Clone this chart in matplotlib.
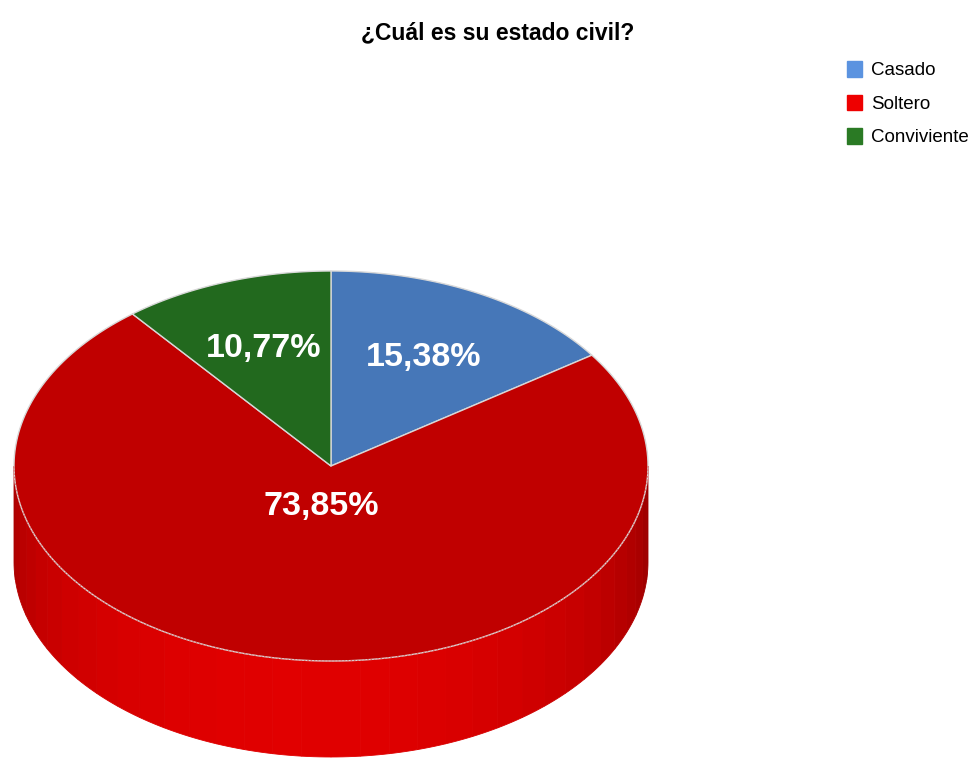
import numpy as np
import matplotlib
matplotlib.use("Agg")
import matplotlib.pyplot as plt
from matplotlib.patches import Polygon, Patch
from matplotlib.colors import to_rgb

# ---- data ----
categories = ["Casado", "Soltero", "Conviviente"]
values = [15.38, 73.85, 10.77]
top_colors = ["#4677b8", "#c00000", "#22691e"]
legend_colors = ["#5b93e0", "#ee0000", "#2a7a24"]
title = "¿Cuál es su estado civil?"

FONT = ["Liberation Sans Narrow", "Liberation Sans", "DejaVu Sans"]

W, H = 979, 761
fig = plt.figure(figsize=(W / 100, H / 100), dpi=100)
ax = fig.add_axes([0, 0, 1, 1])
ax.set_xlim(0, W)
ax.set_ylim(H, 0)
ax.axis("off")

cx, cy, rx, ry, depth = 331, 466, 317, 195, 96

def px(t):
    return cx + rx * np.sin(t)

def py(t):
    return cy - ry * np.cos(t)

fracs = np.array(values) / np.sum(values)
starts = np.concatenate([[0], np.cumsum(fracs)[:-1]]) * 2 * np.pi
ends = np.cumsum(fracs) * 2 * np.pi

# ---- side wall (front half only) ----
nstrip = 34
for s, e, col in zip(starts, ends, top_colors):
    a0, a1 = max(s, np.pi / 2), min(e, 3 * np.pi / 2)
    if a1 <= a0:
        continue
    base = np.array(to_rgb(col))
    side_base = np.clip(base * 1.17, 0, 1)
    edges = np.linspace(a0, a1, nstrip + 1)
    for t0, t1 in zip(edges[:-1], edges[1:]):
        tm = 0.5 * (t0 + t1)
        f = 0.70 + 0.30 * max(0.0, -np.cos(tm - 0.12)) ** 0.8
        c = np.clip(side_base * f, 0, 1)
        tt = np.linspace(t0, t1, 6)
        xs = px(tt)
        ys = py(tt)
        pts = np.column_stack([np.concatenate([xs, xs[::-1]]),
                               np.concatenate([ys, ys[::-1] + depth])])
        ax.add_patch(Polygon(pts, closed=True, facecolor=c, edgecolor=c,
                             lw=0.6, zorder=1))

# ---- top faces ----
for s, e, col in zip(starts, ends, top_colors):
    tt = np.linspace(s, e, 200)
    pts = np.column_stack([np.concatenate([[cx], px(tt)]),
                           np.concatenate([[cy], py(tt)])])
    ax.add_patch(Polygon(pts, closed=True, facecolor=col, edgecolor="#d8d8d8",
                         lw=1.0, zorder=3, joinstyle="round"))

# faint front rim line
tt = np.linspace(np.pi / 2, 3 * np.pi / 2, 200)
ax.plot(px(tt), py(tt), color="#e06060", lw=0.6, ls=(0, (2, 2)), zorder=4)

# ---- labels ----
label_r = [0.63, 0.21, 0.64]
for s, e, v, r in zip(starts, ends, values, label_r):
    tm = 0.5 * (s + e)
    lx = cx + r * rx * np.sin(tm)
    ly = cy - r * ry * np.cos(tm)
    txt = f"{v:.2f}".replace(".", ",") + "%"
    ax.text(lx, ly, txt, color="white", fontsize=24.5, fontweight="bold",
            family=FONT, ha="center", va="center", zorder=5)

# ---- title ----
ax.text(498, 33, title, fontsize=16.5, fontweight="bold", family=FONT,
        ha="center", va="center", color="black")

# ---- legend ----
handles = [Patch(facecolor=c, edgecolor=c) for c in legend_colors]
leg = ax.legend(handles, categories, loc="upper left",
                bbox_to_anchor=(847 / W, 1 - 61 / H), frameon=False,
                prop={"family": FONT, "size": 13.5}, handlelength=0.8,
                handleheight=0.9, handletextpad=0.5, labelspacing=0.82,
                borderaxespad=0, borderpad=0)

fig.savefig("out.png", dpi=100)
